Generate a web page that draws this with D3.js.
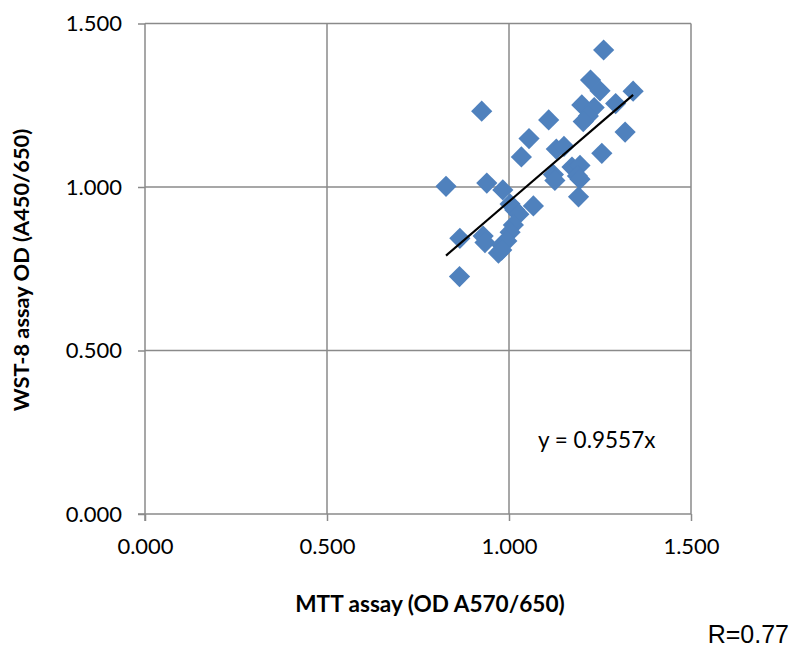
<!DOCTYPE html>
<html>
<head>
<meta charset="utf-8">
<script src="https://cdn.jsdelivr.net/npm/d3@7"></script>
<style>
  html, body { margin: 0; padding: 0; background: #fff; }
  svg { display: block; }
</style>
</head>
<body>
<svg id="chart" width="793" height="649"></svg>
<script>
// MTT OD (x) vs WST-8 OD (y) per sample
const mttOD = [1.260, 0.925, 1.224, 1.250, 1.341, 1.293, 1.200, 1.234, 1.218, 1.204,
               1.109, 1.055, 1.319, 1.130, 1.151, 1.034, 1.255, 1.173, 1.195, 1.122,
               1.126, 1.188, 1.195, 1.191, 0.827, 0.939, 0.983, 1.003, 1.016, 1.067,
               1.027, 1.012, 1.003, 0.865, 0.929, 0.934, 0.980, 0.994, 0.971, 0.864,
               0.980];
const wstOD = [1.419, 1.232, 1.327, 1.294, 1.293, 1.255, 1.251, 1.243, 1.217, 1.200,
               1.205, 1.148, 1.168, 1.116, 1.124, 1.092, 1.103, 1.061, 1.066, 1.038,
               1.020, 1.034, 1.024, 0.970, 1.002, 1.012, 0.991, 0.948, 0.930, 0.942,
               0.917, 0.884, 0.862, 0.843, 0.850, 0.830, 0.823, 0.835, 0.798, 0.726,
               0.807];
const xTicks = [0, 0.5, 1.0, 1.5];
const yTicks = [0, 0.5, 1.0, 1.5];
const slope = 0.9557;
const fitLabel = "y = 0.9557x";
const rLabel = "R=0.77";
const xTitle = "MTT assay (OD A570/650)";
const yTitle = "WST-8 assay OD (A450/650)";

const points = mttOD.map((x, i) => ({ x, y: wstOD[i] }));

const svg = d3.select("#chart");
const plotLeft = 145, plotRight = 691, plotTop = 23.5, plotBottom = 514;

const x = d3.scaleLinear().domain([0, 1.5]).range([plotLeft, plotRight]);
const y = d3.scaleLinear().domain([0, 1.5]).range([plotBottom, plotTop]);

const gridColor = "#8a8a8a";
const fmt = d3.format(".3f");
const font = "Lato, 'Open Sans', sans-serif";

// gridlines
svg.append("g").selectAll("line").data(xTicks.slice(1)).join("line")
  .attr("x1", d => x(d)).attr("x2", d => x(d))
  .attr("y1", plotTop).attr("y2", plotBottom)
  .attr("stroke", gridColor).attr("stroke-width", 1.5);
svg.append("g").selectAll("line").data(yTicks.slice(1)).join("line")
  .attr("x1", plotLeft).attr("x2", plotRight)
  .attr("y1", d => y(d)).attr("y2", d => y(d))
  .attr("stroke", gridColor).attr("stroke-width", 1.5);

// axes
const xAxis = d3.axisBottom(x).tickValues(xTicks).tickFormat(fmt).tickSize(7).tickPadding(17);
const yAxis = d3.axisLeft(y).tickValues(yTicks).tickFormat(fmt).tickSize(7).tickPadding(16);

const gx = svg.append("g").attr("transform", `translate(0,${plotBottom})`).call(xAxis);
const gy = svg.append("g").attr("transform", `translate(${plotLeft},0)`).call(yAxis);
[gx, gy].forEach(g => {
  g.select(".domain").remove();
  g.selectAll(".tick line").attr("stroke", gridColor).attr("stroke-width", 1.5);
  g.selectAll(".tick text")
    .attr("fill", "#000")
    .style("font-family", font)
    .style("font-size", "22px");
});
svg.append("line").attr("x1", plotLeft - 7).attr("x2", plotRight).attr("y1", plotBottom).attr("y2", plotBottom)
  .attr("stroke", gridColor).attr("stroke-width", 1.5);
svg.append("line").attr("x1", plotLeft).attr("x2", plotLeft).attr("y1", plotTop).attr("y2", plotBottom + 7)
  .attr("stroke", gridColor).attr("stroke-width", 1.5);

// data points (diamonds)
const diamond = d3.symbol().type(d3.symbolSquare).size(225);
svg.append("g").selectAll("path").data(points).join("path")
  .attr("d", diamond)
  .attr("transform", d => `translate(${x(d.x)},${y(d.y)}) rotate(45)`)
  .attr("fill", "#4F81BD");

// linear fit through origin
const xMin = d3.min(mttOD), xMax = d3.max(mttOD);
svg.append("line")
  .attr("x1", x(xMin)).attr("y1", y(slope * xMin))
  .attr("x2", x(xMax)).attr("y2", y(slope * xMax))
  .attr("stroke", "#000").attr("stroke-width", 2.2);

// labels
svg.append("text").attr("x", 538).attr("y", 448)
  .style("font-family", font).style("font-size", "22.5px")
  .text(fitLabel);

svg.append("text").attr("x", 430).attr("y", 612)
  .attr("text-anchor", "middle")
  .style("font-family", font).style("font-size", "22.6px").style("font-weight", "bold")
  .text(xTitle);

svg.append("text")
  .attr("transform", `translate(29,270) rotate(-90)`)
  .attr("text-anchor", "middle")
  .style("font-family", font).style("font-size", "21.8px").style("font-weight", "bold")
  .text(yTitle);

svg.append("text").attr("x", 789).attr("y", 643)
  .attr("text-anchor", "end")
  .style("font-family", "'Liberation Sans', Arial, sans-serif").style("font-size", "25px")
  .text(rLabel);
</script>
</body>
</html>
